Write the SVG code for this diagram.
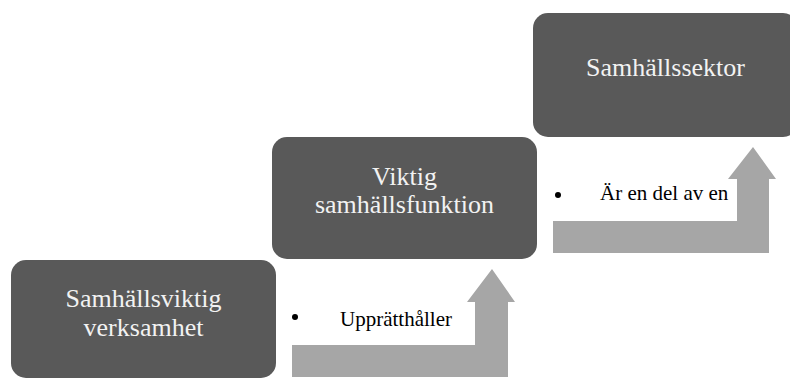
<svg xmlns="http://www.w3.org/2000/svg" width="790" height="380" viewBox="0 0 790 380">
<style>
.box{fill:#595959;}
.bt{font-size:26px;fill:#f2f2f2;text-anchor:middle;}
.lbl{font-size:21px;fill:#000;}
.arrow{fill:#a6a6a6;}
</style>
<rect width="790" height="380" fill="#ffffff"/>
<g id="connectors">
<path class="arrow" d="M292,345 L475,345 L475,302 L467,302 L492,269 L515,302 L508,302 L508,377 L292,377 Z"/>
<path class="arrow" d="M553,221 L737,221 L737,179 L728,179 L753,147 L776,179 L769,179 L769,253 L553,253 Z"/>
<g id="label1">
<circle cx="295" cy="317" r="3"/>
<text class="lbl" font-family="'Liberation Serif', serif" x="340" y="326">Upprätthåller</text>
</g>
<g id="label2">
<circle cx="558" cy="195" r="3"/>
<text class="lbl" font-family="'Liberation Serif', serif" x="600" y="200">Är en del av en</text>
</g>
</g>
<g id="node1">
<rect class="box" x="11" y="260" width="265" height="118" rx="15"/>
<text class="bt" font-family="'Liberation Serif', serif" x="143.5" y="307">Samhällsviktig</text>
<text class="bt" font-family="'Liberation Serif', serif" x="143.5" y="336">verksamhet</text>
</g>
<g id="node2">
<rect class="box" x="272" y="137" width="265" height="122" rx="15"/>
<text class="bt" font-family="'Liberation Serif', serif" x="404.5" y="185">Viktig</text>
<text class="bt" font-family="'Liberation Serif', serif" x="404.5" y="213">samhällsfunktion</text>
</g>
<g id="node3">
<rect class="box" x="533" y="13" width="265" height="124" rx="15"/>
<text class="bt" font-family="'Liberation Serif', serif" x="665.5" y="76">Samhällssektor</text>
</g>
</svg>
